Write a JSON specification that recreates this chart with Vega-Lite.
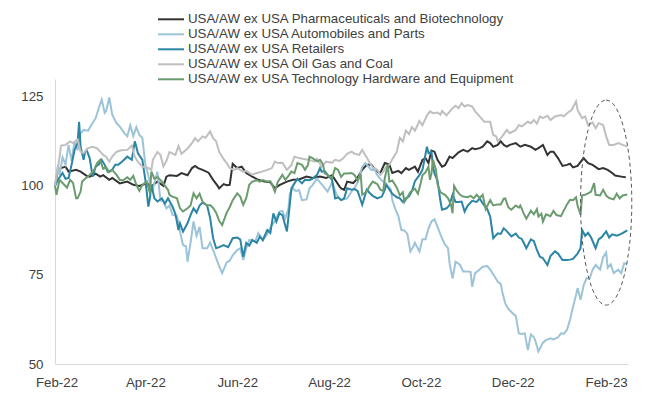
{
"$schema":"https://vega.github.io/schema/vega-lite/v6.json",
"autosize":{"type":"none"},
"width":573,"height":285,
"padding":{"left":55,"top":79,"right":21,"bottom":34},
"background":"white",
"config":{"view":{"stroke":null},"font":"Liberation Sans"},
"layer":[
{"data":{"format":{"parse":{"d":"date:'%Y-%m-%d'"}},"values":[
{"d":"2022-01-31","v":100},{"d":"2022-02-02","v":104.5},{"d":"2022-02-04","v":105},{"d":"2022-02-07","v":105.4},{"d":"2022-02-09","v":104},{"d":"2022-02-14","v":104.5},{"d":"2022-02-17","v":104},{"d":"2022-02-21","v":102.8},{"d":"2022-02-23","v":102.6},{"d":"2022-02-27","v":103.4},{"d":"2022-03-02","v":102.6},{"d":"2022-03-04","v":103},{"d":"2022-03-08","v":101.7},{"d":"2022-03-10","v":102.2},{"d":"2022-03-15","v":100.7},{"d":"2022-03-20","v":101.2},{"d":"2022-03-24","v":100.3},{"d":"2022-03-28","v":100},{"d":"2022-04-02","v":100.7},{"d":"2022-04-05","v":99.8},{"d":"2022-04-09","v":101.2},{"d":"2022-04-13","v":100},{"d":"2022-04-15","v":102.6},{"d":"2022-04-17","v":103},{"d":"2022-04-22","v":102.8},{"d":"2022-04-25","v":103.6},{"d":"2022-04-29","v":103},{"d":"2022-05-02","v":105},{"d":"2022-05-04","v":105.6},{"d":"2022-05-06","v":105},{"d":"2022-05-09","v":104.5},{"d":"2022-05-13","v":103.7},{"d":"2022-05-16","v":101.7},{"d":"2022-05-19","v":100},{"d":"2022-05-20","v":99.3},{"d":"2022-05-23","v":100.5},{"d":"2022-05-25","v":100.2},{"d":"2022-05-27","v":100.3},{"d":"2022-05-29","v":106.2},{"d":"2022-06-01","v":105},{"d":"2022-06-04","v":105.4},{"d":"2022-06-07","v":103.6},{"d":"2022-06-11","v":102.6},{"d":"2022-06-15","v":101.7},{"d":"2022-06-19","v":101.2},{"d":"2022-06-23","v":101},{"d":"2022-06-26","v":99.3},{"d":"2022-06-29","v":100.2},{"d":"2022-07-04","v":101.2},{"d":"2022-07-08","v":101.7},{"d":"2022-07-12","v":101.8},{"d":"2022-07-17","v":102.6},{"d":"2022-07-21","v":102.2},{"d":"2022-07-26","v":102.6},{"d":"2022-07-30","v":102.2},{"d":"2022-08-03","v":103},{"d":"2022-08-08","v":99.8},{"d":"2022-08-09","v":99.3},{"d":"2022-08-11","v":98.9},{"d":"2022-08-13","v":101.2},{"d":"2022-08-17","v":100.8},{"d":"2022-08-19","v":101.7},{"d":"2022-08-23","v":104.5},{"d":"2022-08-26","v":105.9},{"d":"2022-08-29","v":105.9},{"d":"2022-09-02","v":104},{"d":"2022-09-04","v":103.6},{"d":"2022-09-07","v":106.4},{"d":"2022-09-10","v":106},{"d":"2022-09-12","v":103.6},{"d":"2022-09-16","v":104.2},{"d":"2022-09-18","v":103.6},{"d":"2022-09-21","v":105},{"d":"2022-09-23","v":104.5},{"d":"2022-09-27","v":105.4},{"d":"2022-09-29","v":104},{"d":"2022-10-02","v":107.3},{"d":"2022-10-04","v":107.8},{"d":"2022-10-06","v":106.4},{"d":"2022-10-08","v":109.9},{"d":"2022-10-10","v":109.6},{"d":"2022-10-12","v":107.3},{"d":"2022-10-15","v":105.4},{"d":"2022-10-17","v":105.8},{"d":"2022-10-20","v":108.2},{"d":"2022-10-22","v":107.8},{"d":"2022-10-26","v":109.4},{"d":"2022-10-29","v":110.1},{"d":"2022-11-01","v":109.6},{"d":"2022-11-04","v":110.6},{"d":"2022-11-06","v":110.3},{"d":"2022-11-09","v":110.6},{"d":"2022-11-11","v":111},{"d":"2022-11-14","v":112.5},{"d":"2022-11-16","v":112},{"d":"2022-11-18","v":111},{"d":"2022-11-21","v":111.5},{"d":"2022-11-23","v":112.5},{"d":"2022-11-25","v":111.5},{"d":"2022-11-27","v":111},{"d":"2022-11-29","v":111.5},{"d":"2022-12-03","v":112},{"d":"2022-12-06","v":111},{"d":"2022-12-09","v":111.5},{"d":"2022-12-13","v":111},{"d":"2022-12-16","v":110.1},{"d":"2022-12-18","v":110.6},{"d":"2022-12-21","v":111.5},{"d":"2022-12-24","v":108.7},{"d":"2022-12-26","v":109.6},{"d":"2022-12-28","v":109.6},{"d":"2022-12-31","v":107.8},{"d":"2023-01-03","v":105.6},{"d":"2023-01-06","v":105.9},{"d":"2023-01-08","v":106.2},{"d":"2023-01-10","v":105.2},{"d":"2023-01-13","v":105.6},{"d":"2023-01-17","v":107.8},{"d":"2023-01-20","v":106.4},{"d":"2023-01-23","v":105.9},{"d":"2023-01-27","v":104.7},{"d":"2023-01-30","v":105},{"d":"2023-02-02","v":104.5},{"d":"2023-02-05","v":103.6},{"d":"2023-02-07","v":102.9},{"d":"2023-02-11","v":102.6},{"d":"2023-02-14","v":102.4}
]},
"mark":{"type":"line","strokeWidth":2},
"encoding":{
"x":{"field":"d","type":"temporal","scale":{"domain":[{"year":2022,"month":1,"date":31},{"year":2023,"month":2,"date":15,"hours":12}]},
"axis":{"values":[{"year":2022,"month":2,"date":1},{"year":2022,"month":4,"date":1},{"year":2022,"month":6,"date":1},{"year":2022,"month":8,"date":1},{"year":2022,"month":10,"date":1},{"year":2022,"month":12,"date":1},{"year":2023,"month":2,"date":1}],"format":"%b-%y","title":null,"ticks":false,"grid":false,"domainColor":"#D9D9D9","domainWidth":1,"labelFont":"Liberation Sans","labelFontSize":13.3,"labelColor":"#404040","labelPadding":11,"labelFlush":false,"labelOverlap":false}},
"y":{"field":"v","type":"quantitative","scale":{"domain":[50,130],"nice":false,"zero":false},
"axis":{"values":[50,75,100,125],"title":null,"ticks":false,"grid":false,"domainColor":"#D9D9D9","domainWidth":1,"labelFont":"Liberation Sans","labelFontSize":13.3,"labelColor":"#404040","labelPadding":12}},
"color":{"datum":"USA/AW ex USA Pharmaceuticals and Biotechnology","type":"nominal",
"scale":{"domain":["USA/AW ex USA Pharmaceuticals and Biotechnology","USA/AW ex USA Automobiles and Parts","USA/AW ex USA Retailers","USA/AW ex USA Oil Gas and Coal","USA/AW ex USA Technology Hardware and Equipment"],"range":["#333333","#9DC3D8","#2B85A4","#BFBFBF","#6B9B6F"]},
"legend":{"title":null,"orient":"none","legendX":107.5,"legendY":-68.2,"direction":"vertical","symbolType":"M-1.733,0H1.733","symbolSize":225,"symbolStrokeWidth":2,"labelFont":"Liberation Sans","labelFontSize":13.3,"labelColor":"#404040","labelOffset":8.5,"rowPadding":0,"padding":0,"labelLimit":0}}
}},
{"data":{"format":{"parse":{"d":"date:'%Y-%m-%d'"}},"values":[
{"d":"2022-01-31","v":100},{"d":"2022-02-02","v":105.9},{"d":"2022-02-03","v":103},{"d":"2022-02-05","v":108},{"d":"2022-02-07","v":106},{"d":"2022-02-09","v":111.5},{"d":"2022-02-11","v":107},{"d":"2022-02-13","v":112.5},{"d":"2022-02-15","v":110},{"d":"2022-02-17","v":114.8},{"d":"2022-02-19","v":115.7},{"d":"2022-02-22","v":115.5},{"d":"2022-02-24","v":117},{"d":"2022-02-27","v":119},{"d":"2022-03-01","v":121.8},{"d":"2022-03-03","v":124.2},{"d":"2022-03-05","v":120.5},{"d":"2022-03-06","v":121},{"d":"2022-03-08","v":124.8},{"d":"2022-03-10","v":120},{"d":"2022-03-13","v":117.5},{"d":"2022-03-15","v":116.7},{"d":"2022-03-18","v":114.8},{"d":"2022-03-20","v":113.9},{"d":"2022-03-22","v":117},{"d":"2022-03-24","v":114},{"d":"2022-03-26","v":116.5},{"d":"2022-03-28","v":114.3},{"d":"2022-03-30","v":113.5},{"d":"2022-04-01","v":106},{"d":"2022-04-03","v":103},{"d":"2022-04-04","v":100.7},{"d":"2022-04-06","v":99},{"d":"2022-04-09","v":104},{"d":"2022-04-11","v":96},{"d":"2022-04-13","v":95.6},{"d":"2022-04-15","v":93.7},{"d":"2022-04-17","v":94.5},{"d":"2022-04-19","v":91.9},{"d":"2022-04-22","v":91.5},{"d":"2022-04-24","v":87.2},{"d":"2022-04-26","v":83.4},{"d":"2022-04-28","v":83},{"d":"2022-04-29","v":78.7},{"d":"2022-05-01","v":84},{"d":"2022-05-03","v":90},{"d":"2022-05-05","v":86},{"d":"2022-05-07","v":88.5},{"d":"2022-05-09","v":82.5},{"d":"2022-05-12","v":82.5},{"d":"2022-05-14","v":84},{"d":"2022-05-16","v":82},{"d":"2022-05-18","v":79.7},{"d":"2022-05-20","v":77.5},{"d":"2022-05-22","v":75.5},{"d":"2022-05-25","v":78.5},{"d":"2022-05-27","v":79},{"d":"2022-05-29","v":80.5},{"d":"2022-06-01","v":82},{"d":"2022-06-03","v":82.5},{"d":"2022-06-05","v":79.2},{"d":"2022-06-07","v":82.5},{"d":"2022-06-09","v":84.8},{"d":"2022-06-13","v":84.4},{"d":"2022-06-15","v":86.7},{"d":"2022-06-18","v":84.7},{"d":"2022-06-21","v":86.5},{"d":"2022-06-24","v":89},{"d":"2022-06-26","v":90},{"d":"2022-06-27","v":91},{"d":"2022-06-29","v":92.8},{"d":"2022-07-01","v":93},{"d":"2022-07-03","v":90.9},{"d":"2022-07-05","v":93.7},{"d":"2022-07-06","v":98},{"d":"2022-07-08","v":99.3},{"d":"2022-07-10","v":98.5},{"d":"2022-07-12","v":98.8},{"d":"2022-07-14","v":96},{"d":"2022-07-17","v":96.2},{"d":"2022-07-19","v":99.3},{"d":"2022-07-21","v":100.2},{"d":"2022-07-24","v":102},{"d":"2022-07-26","v":101},{"d":"2022-07-28","v":100},{"d":"2022-07-31","v":98.4},{"d":"2022-08-03","v":101},{"d":"2022-08-06","v":97.5},{"d":"2022-08-09","v":96},{"d":"2022-08-13","v":96.5},{"d":"2022-08-16","v":98.5},{"d":"2022-08-18","v":99.5},{"d":"2022-08-20","v":101},{"d":"2022-08-23","v":105.4},{"d":"2022-08-25","v":106.4},{"d":"2022-08-27","v":105.5},{"d":"2022-08-29","v":104.5},{"d":"2022-08-31","v":104.8},{"d":"2022-09-02","v":103},{"d":"2022-09-05","v":101.5},{"d":"2022-09-07","v":101},{"d":"2022-09-09","v":100},{"d":"2022-09-11","v":99},{"d":"2022-09-12","v":96},{"d":"2022-09-14","v":93.5},{"d":"2022-09-16","v":91.5},{"d":"2022-09-18","v":87.6},{"d":"2022-09-20","v":87.5},{"d":"2022-09-22","v":86.5},{"d":"2022-09-24","v":81.6},{"d":"2022-09-26","v":83},{"d":"2022-09-27","v":84},{"d":"2022-09-30","v":81.6},{"d":"2022-10-02","v":85},{"d":"2022-10-04","v":85},{"d":"2022-10-06","v":88},{"d":"2022-10-08","v":90},{"d":"2022-10-10","v":90.6},{"d":"2022-10-12","v":88.5},{"d":"2022-10-15","v":85.3},{"d":"2022-10-17","v":83.5},{"d":"2022-10-19","v":82.5},{"d":"2022-10-20","v":78.3},{"d":"2022-10-22","v":74},{"d":"2022-10-24","v":78.7},{"d":"2022-10-27","v":77.8},{"d":"2022-10-29","v":76},{"d":"2022-11-01","v":76},{"d":"2022-11-03","v":75.8},{"d":"2022-11-04","v":71.7},{"d":"2022-11-06","v":75.5},{"d":"2022-11-09","v":76.5},{"d":"2022-11-11","v":77.3},{"d":"2022-11-14","v":77.5},{"d":"2022-11-16","v":76.5},{"d":"2022-11-19","v":74.5},{"d":"2022-11-21","v":73.1},{"d":"2022-11-23","v":72.5},{"d":"2022-11-24","v":70.3},{"d":"2022-11-26","v":67},{"d":"2022-11-28","v":65.5},{"d":"2022-12-01","v":64.2},{"d":"2022-12-03","v":63.5},{"d":"2022-12-05","v":58.6},{"d":"2022-12-07","v":58.4},{"d":"2022-12-09","v":58.6},{"d":"2022-12-11","v":53.9},{"d":"2022-12-13","v":58.3},{"d":"2022-12-15","v":57.5},{"d":"2022-12-16","v":56.5},{"d":"2022-12-18","v":53.5},{"d":"2022-12-21","v":56},{"d":"2022-12-23","v":56.7},{"d":"2022-12-26","v":57.2},{"d":"2022-12-28","v":56.9},{"d":"2022-12-31","v":57.5},{"d":"2023-01-02","v":58.6},{"d":"2023-01-04","v":58.5},{"d":"2023-01-06","v":59.6},{"d":"2023-01-08","v":62.4},{"d":"2023-01-10","v":66.1},{"d":"2023-01-12","v":69.4},{"d":"2023-01-13","v":71.3},{"d":"2023-01-15","v":68},{"d":"2023-01-17","v":72},{"d":"2023-01-19","v":74.1},{"d":"2023-01-21","v":74},{"d":"2023-01-23","v":76.5},{"d":"2023-01-25","v":77.8},{"d":"2023-01-28","v":76.5},{"d":"2023-01-30","v":80},{"d":"2023-02-01","v":81.3},{"d":"2023-02-02","v":77},{"d":"2023-02-04","v":78},{"d":"2023-02-06","v":75.5},{"d":"2023-02-09","v":76.5},{"d":"2023-02-11","v":75.5},{"d":"2023-02-13","v":78.3},{"d":"2023-02-15","v":78}
]},
"mark":{"type":"line","strokeWidth":2},
"encoding":{"x":{"field":"d","type":"temporal"},"y":{"field":"v","type":"quantitative"},"color":{"datum":"USA/AW ex USA Automobiles and Parts","type":"nominal"}}},
{"data":{"format":{"parse":{"d":"date:'%Y-%m-%d'"}},"values":[
{"d":"2022-01-31","v":100},{"d":"2022-02-02","v":101.7},{"d":"2022-02-05","v":103.6},{"d":"2022-02-07","v":102},{"d":"2022-02-09","v":102.2},{"d":"2022-02-11","v":105.9},{"d":"2022-02-13","v":110.1},{"d":"2022-02-15","v":112},{"d":"2022-02-16","v":118},{"d":"2022-02-17","v":111},{"d":"2022-02-19","v":107.3},{"d":"2022-02-20","v":109.6},{"d":"2022-02-21","v":110.1},{"d":"2022-02-23","v":107.8},{"d":"2022-02-25","v":102.6},{"d":"2022-02-27","v":105.4},{"d":"2022-03-01","v":106},{"d":"2022-03-03","v":107.3},{"d":"2022-03-05","v":105.9},{"d":"2022-03-07","v":104},{"d":"2022-03-10","v":104.5},{"d":"2022-03-12","v":105.9},{"d":"2022-03-14","v":105.9},{"d":"2022-03-17","v":107},{"d":"2022-03-20","v":108.2},{"d":"2022-03-23","v":107.3},{"d":"2022-03-25","v":112.5},{"d":"2022-03-26","v":111},{"d":"2022-03-27","v":109.2},{"d":"2022-03-30","v":107.3},{"d":"2022-04-01","v":101.7},{"d":"2022-04-03","v":94.2},{"d":"2022-04-04","v":96.5},{"d":"2022-04-05","v":100.3},{"d":"2022-04-07","v":96.5},{"d":"2022-04-09","v":95.6},{"d":"2022-04-12","v":96.5},{"d":"2022-04-14","v":95},{"d":"2022-04-16","v":96.5},{"d":"2022-04-19","v":94.2},{"d":"2022-04-21","v":92},{"d":"2022-04-23","v":87.6},{"d":"2022-04-24","v":89.5},{"d":"2022-04-26","v":87.2},{"d":"2022-04-29","v":89.5},{"d":"2022-05-01","v":91.8},{"d":"2022-05-03","v":93.7},{"d":"2022-05-05","v":92.5},{"d":"2022-05-07","v":94.5},{"d":"2022-05-09","v":95.3},{"d":"2022-05-12","v":94.5},{"d":"2022-05-14","v":91},{"d":"2022-05-16","v":85.3},{"d":"2022-05-18","v":82.5},{"d":"2022-05-20","v":82.8},{"d":"2022-05-23","v":83.4},{"d":"2022-05-26","v":82.8},{"d":"2022-05-29","v":85.3},{"d":"2022-06-01","v":85.5},{"d":"2022-06-03","v":85},{"d":"2022-06-05","v":80.1},{"d":"2022-06-07","v":84},{"d":"2022-06-09","v":83.2},{"d":"2022-06-11","v":84.8},{"d":"2022-06-14","v":84},{"d":"2022-06-16","v":85.8},{"d":"2022-06-18","v":84.8},{"d":"2022-06-21","v":87.6},{"d":"2022-06-23","v":86.8},{"d":"2022-06-25","v":92.3},{"d":"2022-06-27","v":90},{"d":"2022-06-29","v":92.3},{"d":"2022-07-01","v":91.8},{"d":"2022-07-04","v":87.2},{"d":"2022-07-06","v":95.1},{"d":"2022-07-07","v":99.3},{"d":"2022-07-09","v":100.7},{"d":"2022-07-11","v":102},{"d":"2022-07-14","v":100.7},{"d":"2022-07-16","v":101.7},{"d":"2022-07-19","v":101.6},{"d":"2022-07-21","v":102},{"d":"2022-07-24","v":103.1},{"d":"2022-07-26","v":105},{"d":"2022-07-27","v":104},{"d":"2022-07-29","v":104.2},{"d":"2022-07-31","v":103.1},{"d":"2022-08-03","v":101.7},{"d":"2022-08-05","v":96.5},{"d":"2022-08-07","v":96.8},{"d":"2022-08-09","v":96},{"d":"2022-08-11","v":96.5},{"d":"2022-08-13","v":99.3},{"d":"2022-08-16","v":98.9},{"d":"2022-08-18","v":99.1},{"d":"2022-08-20","v":98.5},{"d":"2022-08-23","v":94.7},{"d":"2022-08-26","v":98.9},{"d":"2022-08-28","v":98},{"d":"2022-08-30","v":97.2},{"d":"2022-09-02","v":96.5},{"d":"2022-09-05","v":97},{"d":"2022-09-07","v":98.9},{"d":"2022-09-08","v":100.3},{"d":"2022-09-10","v":99},{"d":"2022-09-12","v":97.8},{"d":"2022-09-15","v":96.8},{"d":"2022-09-17","v":96.5},{"d":"2022-09-19","v":95.5},{"d":"2022-09-21","v":96.5},{"d":"2022-09-23","v":97},{"d":"2022-09-25","v":98.5},{"d":"2022-09-27","v":101.3},{"d":"2022-09-30","v":103},{"d":"2022-10-02","v":104.5},{"d":"2022-10-05","v":111},{"d":"2022-10-06","v":109.2},{"d":"2022-10-08","v":109.6},{"d":"2022-10-09","v":105.4},{"d":"2022-10-10","v":103.5},{"d":"2022-10-12","v":101.5},{"d":"2022-10-14","v":95.6},{"d":"2022-10-15","v":93.3},{"d":"2022-10-18","v":93.7},{"d":"2022-10-20","v":94.6},{"d":"2022-10-22","v":97.5},{"d":"2022-10-24","v":95.5},{"d":"2022-10-26","v":95.5},{"d":"2022-10-28","v":95.6},{"d":"2022-10-30","v":92.8},{"d":"2022-11-01","v":94.4},{"d":"2022-11-04","v":95.8},{"d":"2022-11-07","v":95.5},{"d":"2022-11-09","v":96.5},{"d":"2022-11-11","v":95.1},{"d":"2022-11-14","v":93.5},{"d":"2022-11-16","v":91.4},{"d":"2022-11-18","v":85.3},{"d":"2022-11-21","v":86.7},{"d":"2022-11-23","v":86.5},{"d":"2022-11-25","v":88.1},{"d":"2022-11-27","v":87.3},{"d":"2022-11-30","v":85.8},{"d":"2022-12-03","v":86.6},{"d":"2022-12-05","v":85.5},{"d":"2022-12-07","v":85.1},{"d":"2022-12-10","v":82.5},{"d":"2022-12-13","v":85},{"d":"2022-12-15","v":84.5},{"d":"2022-12-17","v":82},{"d":"2022-12-19","v":80.1},{"d":"2022-12-21","v":79.7},{"d":"2022-12-24","v":77.8},{"d":"2022-12-26","v":80.3},{"d":"2022-12-29","v":81.6},{"d":"2022-12-31","v":81},{"d":"2023-01-03","v":79.2},{"d":"2023-01-06","v":79.2},{"d":"2023-01-08","v":79.3},{"d":"2023-01-10","v":79.5},{"d":"2023-01-13","v":81},{"d":"2023-01-15","v":82.5},{"d":"2023-01-16","v":87.6},{"d":"2023-01-18","v":86},{"d":"2023-01-20","v":86.8},{"d":"2023-01-22","v":85.5},{"d":"2023-01-25","v":82.5},{"d":"2023-01-27","v":85},{"d":"2023-01-29","v":85.6},{"d":"2023-02-01","v":87.2},{"d":"2023-02-03","v":85.5},{"d":"2023-02-05","v":86.4},{"d":"2023-02-08","v":86},{"d":"2023-02-11","v":86.5},{"d":"2023-02-13","v":87},{"d":"2023-02-15","v":87.5}
]},
"mark":{"type":"line","strokeWidth":2},
"encoding":{"x":{"field":"d","type":"temporal"},"y":{"field":"v","type":"quantitative"},"color":{"datum":"USA/AW ex USA Retailers","type":"nominal"}}},
{"data":{"format":{"parse":{"d":"date:'%Y-%m-%d'"}},"values":[
{"d":"2022-01-31","v":100},{"d":"2022-02-03","v":108},{"d":"2022-02-04","v":111.3},{"d":"2022-02-07","v":111.5},{"d":"2022-02-10","v":112.5},{"d":"2022-02-12","v":112},{"d":"2022-02-15","v":113},{"d":"2022-02-17","v":109.6},{"d":"2022-02-19","v":109.2},{"d":"2022-02-22","v":110.6},{"d":"2022-02-25","v":111},{"d":"2022-02-28","v":110.5},{"d":"2022-03-02","v":109.6},{"d":"2022-03-04","v":108.7},{"d":"2022-03-06","v":108.2},{"d":"2022-03-08","v":106.8},{"d":"2022-03-10","v":108.2},{"d":"2022-03-13","v":109.6},{"d":"2022-03-16","v":110},{"d":"2022-03-20","v":110.1},{"d":"2022-03-23","v":111.3},{"d":"2022-03-25","v":108.2},{"d":"2022-03-27","v":106.8},{"d":"2022-03-30","v":105.4},{"d":"2022-04-03","v":105},{"d":"2022-04-05","v":104.5},{"d":"2022-04-06","v":107.3},{"d":"2022-04-09","v":109.5},{"d":"2022-04-11","v":108.7},{"d":"2022-04-13","v":105.5},{"d":"2022-04-15","v":107},{"d":"2022-04-17","v":109.5},{"d":"2022-04-21","v":108.7},{"d":"2022-04-23","v":111.2},{"d":"2022-04-25","v":109},{"d":"2022-04-29","v":110.5},{"d":"2022-05-02","v":112},{"d":"2022-05-04","v":113.4},{"d":"2022-05-06","v":112.5},{"d":"2022-05-09","v":113.9},{"d":"2022-05-11","v":113.5},{"d":"2022-05-14","v":115.3},{"d":"2022-05-16","v":113.4},{"d":"2022-05-18","v":112.5},{"d":"2022-05-20","v":109.6},{"d":"2022-05-23","v":107.5},{"d":"2022-05-25","v":106.4},{"d":"2022-05-27","v":105},{"d":"2022-05-30","v":104.5},{"d":"2022-06-01","v":105},{"d":"2022-06-05","v":104},{"d":"2022-06-07","v":104.2},{"d":"2022-06-11","v":103.1},{"d":"2022-06-13","v":103.5},{"d":"2022-06-16","v":103.8},{"d":"2022-06-21","v":104.5},{"d":"2022-06-24","v":105},{"d":"2022-06-26","v":106.8},{"d":"2022-06-28","v":106.4},{"d":"2022-07-01","v":106.5},{"d":"2022-07-04","v":104.5},{"d":"2022-07-07","v":105.9},{"d":"2022-07-09","v":108.2},{"d":"2022-07-12","v":107.8},{"d":"2022-07-16","v":107.5},{"d":"2022-07-19","v":107.3},{"d":"2022-07-22","v":106.8},{"d":"2022-07-24","v":107.6},{"d":"2022-07-27","v":105.4},{"d":"2022-07-30","v":106.8},{"d":"2022-08-03","v":106.5},{"d":"2022-08-05","v":107.3},{"d":"2022-08-08","v":107},{"d":"2022-08-10","v":107.6},{"d":"2022-08-13","v":109},{"d":"2022-08-16","v":109.6},{"d":"2022-08-18","v":109},{"d":"2022-08-21","v":108.7},{"d":"2022-08-23","v":110.1},{"d":"2022-08-26","v":108},{"d":"2022-08-28","v":106.4},{"d":"2022-08-30","v":105.2},{"d":"2022-09-02","v":104.5},{"d":"2022-09-04","v":103.1},{"d":"2022-09-06","v":104},{"d":"2022-09-08","v":105.5},{"d":"2022-09-10","v":105.9},{"d":"2022-09-12","v":107.5},{"d":"2022-09-15","v":109.6},{"d":"2022-09-17","v":113.5},{"d":"2022-09-19","v":112.5},{"d":"2022-09-21","v":115.5},{"d":"2022-09-23","v":114.5},{"d":"2022-09-25","v":116.5},{"d":"2022-09-27","v":115.5},{"d":"2022-09-30","v":118.2},{"d":"2022-10-02","v":117},{"d":"2022-10-05","v":119.8},{"d":"2022-10-07","v":120.9},{"d":"2022-10-09","v":120.4},{"d":"2022-10-12","v":120.6},{"d":"2022-10-14","v":120},{"d":"2022-10-15","v":121},{"d":"2022-10-18","v":119.8},{"d":"2022-10-22","v":121.8},{"d":"2022-10-24","v":122.5},{"d":"2022-10-26","v":121.8},{"d":"2022-10-28","v":123.2},{"d":"2022-10-30","v":122.3},{"d":"2022-11-01","v":122.7},{"d":"2022-11-04","v":122.3},{"d":"2022-11-06","v":120.9},{"d":"2022-11-09","v":119.5},{"d":"2022-11-12","v":118},{"d":"2022-11-16","v":118},{"d":"2022-11-18","v":114.3},{"d":"2022-11-20","v":113.9},{"d":"2022-11-21","v":112.5},{"d":"2022-11-24","v":113.9},{"d":"2022-11-27","v":115.7},{"d":"2022-11-29","v":114.8},{"d":"2022-12-03","v":115.7},{"d":"2022-12-05","v":117.1},{"d":"2022-12-07","v":116.7},{"d":"2022-12-11","v":118},{"d":"2022-12-13","v":117.6},{"d":"2022-12-15","v":118.5},{"d":"2022-12-17","v":117.5},{"d":"2022-12-19","v":119.5},{"d":"2022-12-21","v":119},{"d":"2022-12-24","v":119.7},{"d":"2022-12-26","v":118.5},{"d":"2022-12-29","v":119.5},{"d":"2023-01-02","v":119.9},{"d":"2023-01-04","v":119.5},{"d":"2023-01-06","v":120.4},{"d":"2023-01-09","v":121.3},{"d":"2023-01-12","v":123.7},{"d":"2023-01-13","v":121.3},{"d":"2023-01-16","v":119},{"d":"2023-01-18","v":119.5},{"d":"2023-01-20","v":117.1},{"d":"2023-01-23","v":117.8},{"d":"2023-01-25","v":116.2},{"d":"2023-01-27","v":117.6},{"d":"2023-01-30","v":117.1},{"d":"2023-02-01","v":113.9},{"d":"2023-02-03","v":111.5},{"d":"2023-02-06","v":111.5},{"d":"2023-02-09","v":112},{"d":"2023-02-12","v":111.5},{"d":"2023-02-15","v":111}
]},
"mark":{"type":"line","strokeWidth":2},
"encoding":{"x":{"field":"d","type":"temporal"},"y":{"field":"v","type":"quantitative"},"color":{"datum":"USA/AW ex USA Oil Gas and Coal","type":"nominal"}}},
{"data":{"format":{"parse":{"d":"date:'%Y-%m-%d'"}},"values":[
{"d":"2022-01-31","v":100},{"d":"2022-02-01","v":97.5},{"d":"2022-02-03","v":101.7},{"d":"2022-02-05","v":100.8},{"d":"2022-02-08","v":99.5},{"d":"2022-02-10","v":101.7},{"d":"2022-02-12","v":100.8},{"d":"2022-02-14","v":96.5},{"d":"2022-02-15","v":96.5},{"d":"2022-02-17","v":98.4},{"d":"2022-02-18","v":101.2},{"d":"2022-02-20","v":102},{"d":"2022-02-22","v":102.6},{"d":"2022-02-24","v":103.5},{"d":"2022-02-26","v":104.5},{"d":"2022-02-28","v":106.4},{"d":"2022-03-02","v":107.3},{"d":"2022-03-04","v":104.8},{"d":"2022-03-06","v":105.2},{"d":"2022-03-08","v":103.8},{"d":"2022-03-10","v":104.5},{"d":"2022-03-13","v":103},{"d":"2022-03-15","v":101.7},{"d":"2022-03-17","v":101.5},{"d":"2022-03-20","v":102.4},{"d":"2022-03-22","v":101.7},{"d":"2022-03-24","v":102.8},{"d":"2022-03-26","v":100.3},{"d":"2022-03-28","v":98.6},{"d":"2022-03-30","v":100.3},{"d":"2022-04-02","v":101.2},{"d":"2022-04-04","v":97.9},{"d":"2022-04-05","v":104},{"d":"2022-04-07","v":102},{"d":"2022-04-09","v":102.5},{"d":"2022-04-12","v":101.2},{"d":"2022-04-14","v":100},{"d":"2022-04-16","v":98.9},{"d":"2022-04-17","v":97.5},{"d":"2022-04-19","v":97},{"d":"2022-04-22","v":96.5},{"d":"2022-04-24","v":93.7},{"d":"2022-04-26","v":92.8},{"d":"2022-04-29","v":93.7},{"d":"2022-05-01","v":94.5},{"d":"2022-05-03","v":97.9},{"d":"2022-05-05","v":96.5},{"d":"2022-05-07","v":97.8},{"d":"2022-05-09","v":95.5},{"d":"2022-05-12","v":94.5},{"d":"2022-05-14","v":94.6},{"d":"2022-05-16","v":93.8},{"d":"2022-05-18","v":92.5},{"d":"2022-05-20","v":90.2},{"d":"2022-05-22","v":89},{"d":"2022-05-25","v":92.5},{"d":"2022-05-27","v":94},{"d":"2022-05-29","v":96},{"d":"2022-06-01","v":97.9},{"d":"2022-06-03","v":97},{"d":"2022-06-05","v":94.7},{"d":"2022-06-07","v":96.6},{"d":"2022-06-09","v":100.3},{"d":"2022-06-11","v":101.2},{"d":"2022-06-14","v":101.6},{"d":"2022-06-16","v":101.2},{"d":"2022-06-18","v":101.6},{"d":"2022-06-21","v":101.2},{"d":"2022-06-23","v":101.3},{"d":"2022-06-25","v":99.5},{"d":"2022-06-26","v":98.4},{"d":"2022-06-28","v":101.2},{"d":"2022-07-01","v":103.1},{"d":"2022-07-03","v":101.7},{"d":"2022-07-05","v":102.8},{"d":"2022-07-07","v":104},{"d":"2022-07-09","v":103.6},{"d":"2022-07-11","v":106.4},{"d":"2022-07-14","v":105.9},{"d":"2022-07-16","v":104.5},{"d":"2022-07-18","v":105.9},{"d":"2022-07-19","v":108.2},{"d":"2022-07-21","v":107.8},{"d":"2022-07-24","v":106.9},{"d":"2022-07-26","v":107.3},{"d":"2022-07-28","v":106},{"d":"2022-07-29","v":103.6},{"d":"2022-07-31","v":103.1},{"d":"2022-08-03","v":102.2},{"d":"2022-08-05","v":105},{"d":"2022-08-07","v":104.5},{"d":"2022-08-09","v":102.5},{"d":"2022-08-11","v":103.5},{"d":"2022-08-13","v":103.5},{"d":"2022-08-16","v":103.6},{"d":"2022-08-18","v":103},{"d":"2022-08-20","v":101.5},{"d":"2022-08-22","v":103.4},{"d":"2022-08-23","v":97.5},{"d":"2022-08-26","v":98.4},{"d":"2022-08-28","v":100},{"d":"2022-08-30","v":101.2},{"d":"2022-09-02","v":100.5},{"d":"2022-09-04","v":99},{"d":"2022-09-06","v":98.5},{"d":"2022-09-07","v":102.2},{"d":"2022-09-09","v":105.9},{"d":"2022-09-10","v":101.2},{"d":"2022-09-12","v":101.5},{"d":"2022-09-15","v":99.5},{"d":"2022-09-17","v":97.3},{"d":"2022-09-19","v":98.2},{"d":"2022-09-20","v":95.5},{"d":"2022-09-22","v":96.8},{"d":"2022-09-24","v":98.3},{"d":"2022-09-27","v":99.2},{"d":"2022-09-29","v":97.8},{"d":"2022-10-01","v":101},{"d":"2022-10-02","v":103},{"d":"2022-10-04","v":103.8},{"d":"2022-10-06","v":105.4},{"d":"2022-10-07","v":101.7},{"d":"2022-10-08","v":103.5},{"d":"2022-10-09","v":107.3},{"d":"2022-10-11","v":104.5},{"d":"2022-10-12","v":100.5},{"d":"2022-10-14","v":98.2},{"d":"2022-10-17","v":97.5},{"d":"2022-10-19","v":96.5},{"d":"2022-10-21","v":94.7},{"d":"2022-10-22","v":92.3},{"d":"2022-10-23","v":100},{"d":"2022-10-25","v":98.5},{"d":"2022-10-27","v":97.5},{"d":"2022-10-29","v":97},{"d":"2022-11-01","v":96.8},{"d":"2022-11-03","v":97.2},{"d":"2022-11-05","v":96.5},{"d":"2022-11-07","v":97.5},{"d":"2022-11-09","v":96.6},{"d":"2022-11-11","v":97.5},{"d":"2022-11-13","v":93.5},{"d":"2022-11-16","v":96},{"d":"2022-11-18","v":94.5},{"d":"2022-11-21","v":94.8},{"d":"2022-11-23","v":94.8},{"d":"2022-11-25","v":96.4},{"d":"2022-11-26","v":96.5},{"d":"2022-11-28","v":94},{"d":"2022-11-30","v":93.3},{"d":"2022-12-03","v":94.5},{"d":"2022-12-05","v":93.9},{"d":"2022-12-06","v":94.5},{"d":"2022-12-08","v":92.5},{"d":"2022-12-10","v":90.8},{"d":"2022-12-13","v":93},{"d":"2022-12-15","v":92},{"d":"2022-12-17","v":93.5},{"d":"2022-12-18","v":91.4},{"d":"2022-12-20","v":92.2},{"d":"2022-12-21","v":90},{"d":"2022-12-23","v":92},{"d":"2022-12-26","v":91.5},{"d":"2022-12-28","v":93},{"d":"2022-12-30","v":91.8},{"d":"2023-01-02","v":91.5},{"d":"2023-01-04","v":93.2},{"d":"2023-01-06","v":94.8},{"d":"2023-01-08","v":96.1},{"d":"2023-01-10","v":96},{"d":"2023-01-12","v":96.8},{"d":"2023-01-13","v":94.5},{"d":"2023-01-15","v":91.9},{"d":"2023-01-16","v":97.3},{"d":"2023-01-18","v":97.5},{"d":"2023-01-20","v":97.9},{"d":"2023-01-22","v":98.4},{"d":"2023-01-24","v":100.8},{"d":"2023-01-25","v":97.5},{"d":"2023-01-28","v":97.3},{"d":"2023-01-30","v":98.9},{"d":"2023-02-01","v":97.3},{"d":"2023-02-03","v":96.6},{"d":"2023-02-06","v":96.2},{"d":"2023-02-08","v":97.8},{"d":"2023-02-10","v":96.5},{"d":"2023-02-12","v":97.3},{"d":"2023-02-15","v":97.6}
]},
"mark":{"type":"line","strokeWidth":2},
"encoding":{"x":{"field":"d","type":"temporal"},"y":{"field":"v","type":"quantitative"},"color":{"datum":"USA/AW ex USA Technology Hardware and Equipment","type":"nominal"}}},
{"mark":{"type":"rule","color":"#404040","strokeWidth":1.5,"strokeDash":[2,2]},
"encoding":{"y":{"datum":100,"type":"quantitative"}}},
{"data":{"format":{"parse":{"d":"date:'%Y-%m-%d'"}},"values":[{"d":"2023-02-01","v":95.3}]},
"mark":{"type":"point","shape":"M0,-1C0.138,-1 0.25,-0.552 0.25,0C0.25,0.552 0.138,1 0,1C-0.138,1 -0.25,0.552 -0.25,0C-0.25,-0.552 -0.138,-1 0,-1Z","size":42025,"filled":false,"stroke":"#595959","strokeWidth":1,"strokeDash":[4,3],"opacity":1},
"encoding":{"x":{"field":"d","type":"temporal"},"y":{"field":"v","type":"quantitative"}}}
]
}
